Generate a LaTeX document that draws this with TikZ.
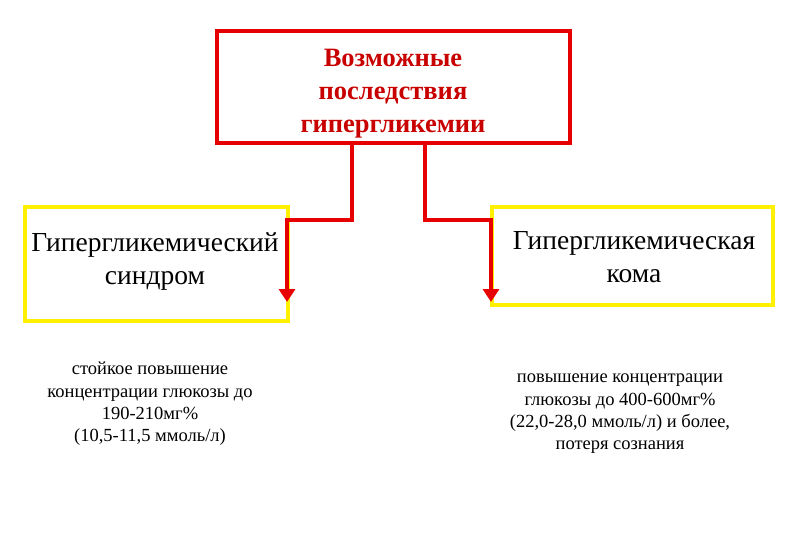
\documentclass[tikz,border=0pt]{standalone}
\usepackage{fontspec}
\setmainfont{Liberation Serif}
\usetikzlibrary{arrows.meta}
\definecolor{dred}{RGB}{200,0,0}
\definecolor{bred}{RGB}{230,0,0}
\definecolor{yel}{RGB}{255,240,0}
\begin{document}
\begin{tikzpicture}[x=1pt,y=-1pt,
  redbox/.style={draw=bred,line width=4pt},
  yelbox/.style={draw=yel,line width=4pt},
  conn/.style={draw=bred,line width=4pt,-{Triangle[length=13pt,width=16pt]}},
  big/.style={font=\fontsize{27.5}{33}\selectfont,align=center},
  small/.style={font=\fontsize{18.5}{22.3}\selectfont,align=center}]
\useasboundingbox (0,0) rectangle (810,540);
\draw[redbox] (217,31) rectangle (570,143);
\node[text=dred,align=center,font=\fontsize{26.5}{33}\selectfont\bfseries] (top) at (393,94) {Возможные\\последствия\\гипергликемии};
\draw[yelbox] (25,207) rectangle (288,321);
\draw[yelbox] (492,207) rectangle (773,305);
\node[big] (l) at (155,262) {Гипергликемический\\синдром};
\node[big] (r) at (634,257) {Гипергликемическая\\кома};
\coordinate (ls) at (352,145); \coordinate (le) at (287,302);
\coordinate (rs) at (425,145); \coordinate (re) at (491,302);
\draw[conn] (ls) |- (287,220) -- (le);
\draw[conn] (rs) |- (491,220) -- (re);
\node[small] (lt) at (150,404) {стойкое повышение\\концентрации глюкозы до\\190-210мг\%\\(10,5-11,5 ммоль/л)};
\node[small] (rt) at (620,414) {повышение концентрации\\глюкозы до 400-600мг\%\\(22,0-28,0 ммоль/л) и более,\\потеря сознания};
\end{tikzpicture}
\end{document}
